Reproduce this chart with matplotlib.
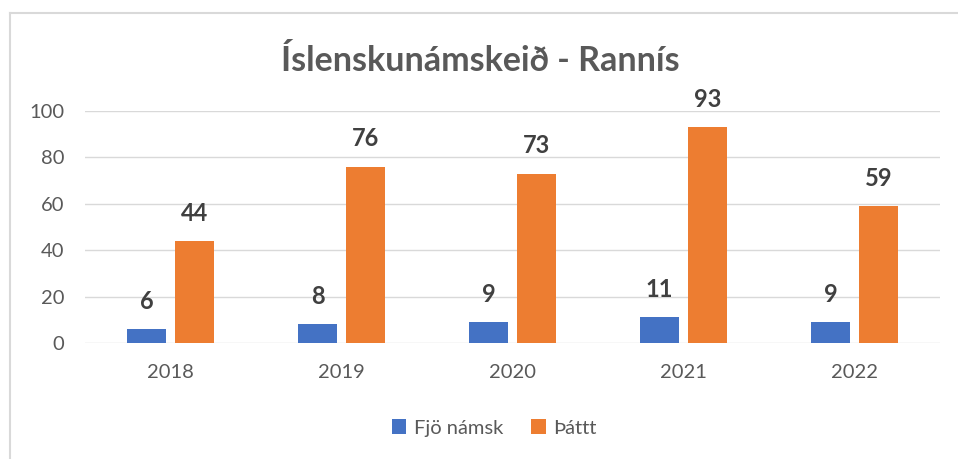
import matplotlib.pyplot as plt
from matplotlib.lines import Line2D
import numpy as np

plt.rcParams['font.family'] = ['Lato', 'DejaVu Sans']

# 資料
years = ['2018', '2019', '2020', '2021', '2022']
fjo_namsk = [6, 8, 9, 11, 9]
thattt = [44, 76, 73, 93, 59]

BLUE = '#4472C4'
ORANGE = '#ED7D31'
GRID = '#D9D9D9'
TXT = '#595959'
LBL = '#404040'

fig = plt.figure(figsize=(9.58, 4.59), dpi=100)
fig.patch.set_facecolor('white')
ax = fig.add_axes([0.0887, 0.2527, 0.8923, 0.5055])

x = np.arange(len(years))
w = 0.23
off = 0.14
b1 = ax.bar(x - off, fjo_namsk, w, color=BLUE, label='Fjö námsk', zorder=3)
b2 = ax.bar(x + off, thattt, w, color=ORANGE, label='Þáttt', zorder=3)

for bars in (b1, b2):
    for r in bars:
        ax.annotate(f'{int(r.get_height())}',
                    (r.get_x() + r.get_width() / 2, r.get_height()),
                    xytext=(0, 20), textcoords='offset points',
                    ha='center', va='center', fontsize=17, fontweight='bold',
                    color=LBL)

ax.set_xlim(-0.5, 4.5)
ax.set_ylim(0, 100)
ax.set_yticks(range(0, 101, 20))
ax.set_xticks(x)
ax.set_xticklabels(years)
ax.tick_params(axis='both', length=0, labelsize=14.5, colors=TXT)
ax.tick_params(axis='x', pad=15)
ax.tick_params(axis='y', pad=15)
ax.yaxis.grid(True, color=GRID, linewidth=1, zorder=0)
for s in ax.spines.values():
    s.set_visible(False)

fig.text(0.501, 0.868, 'Íslenskunámskeið - Rannís', ha='center', va='center',
         fontsize=24.5, fontweight='bold', color=TXT)

fig.legend(loc='center', bbox_to_anchor=(0.516, 0.0675), ncol=2, frameon=False,
           handlelength=0.7, handleheight=0.7, handletextpad=0.4,
           columnspacing=1.4, fontsize=14.5, labelcolor=TXT)

# 外框(只露出上、左)
yt = 1 - 12.5 / 459
xl = 9.5 / 958
fig.add_artist(Line2D([xl, 1], [yt, yt], color=GRID, linewidth=1.5))
fig.add_artist(Line2D([xl, xl], [0, yt], color=GRID, linewidth=1.5))

fig.savefig('out.png', dpi=100, facecolor='white')
